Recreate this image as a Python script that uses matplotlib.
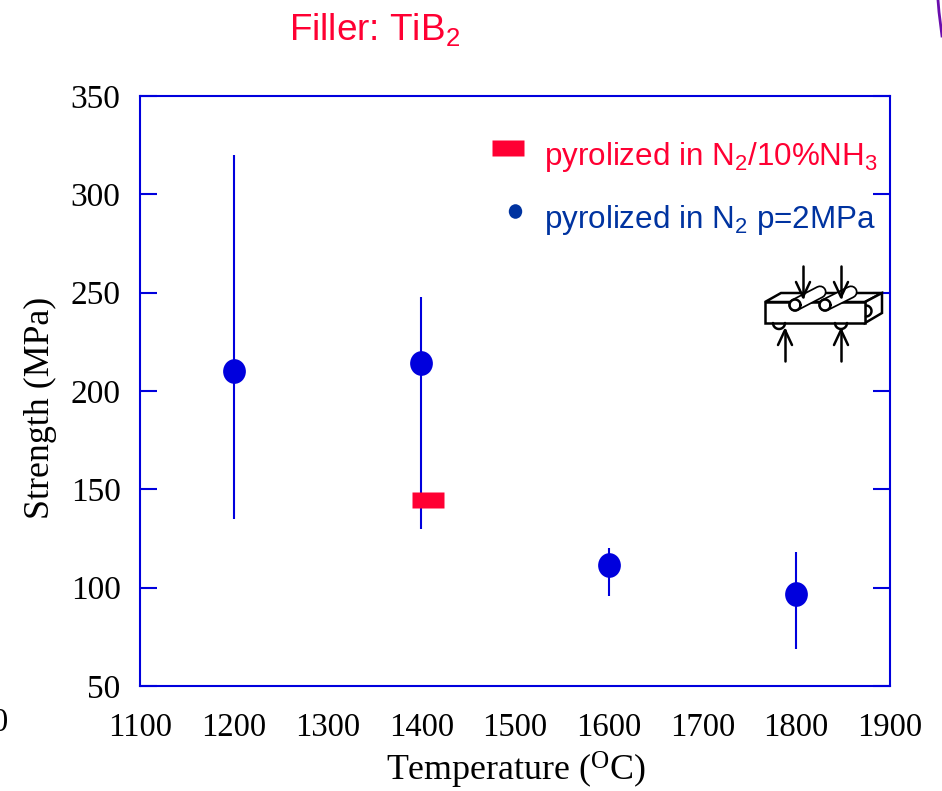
import matplotlib
matplotlib.use("Agg")
import matplotlib.pyplot as plt
import matplotlib.path as mpath
import numpy as np

plt.rcParams['mathtext.default'] = 'regular'

# data
temps = [1200, 1400, 1600, 1800]
strength = [210, 214, 111.5, 97]
strength_low = [135, 130, 96, 69]
strength_high = [320, 248, 120, 118]
nh3_temp = [1407]
nh3_strength = [144.5]

xticks = [1100, 1200, 1300, 1400, 1500, 1600, 1700, 1800, 1900]
yticks = [50, 100, 150, 200, 250, 300, 350]

title_text = "Filler: TiB$_2$"
legend_red = "pyrolized in N$_2$/10%NH$_3$"
legend_blue = "pyrolized in N$_2$ p=2MPa"

W, H = 942, 791
blue = "#0000DD"
navy = "#0033A0"
red = "#FF0033"
serif = "Liberation Serif"
sans = "Liberation Sans"

# markers: slightly tall ellipse, flat rectangle
ellipse = mpath.Path(mpath.Path.unit_circle().vertices * np.array([0.92, 1.0]),
                     mpath.Path.unit_circle().codes)
rect = mpath.Path([(-1, -0.5), (1, -0.5), (1, 0.5), (-1, 0.5), (-1, -0.5)], closed=True)

fig = plt.figure(figsize=(W / 100, H / 100), dpi=100)
ax = fig.add_axes([140 / W, 1 - 686 / H, 750 / W, 590 / H])

for t, lo, hi in zip(temps, strength_low, strength_high):
    ax.plot([t, t], [lo, hi], color=blue, lw=1.5, solid_capstyle="butt", zorder=2)
ax.plot(temps, strength, ls="none", marker=ellipse, ms=17.8, mfc=blue, mec="none", zorder=3)
ax.plot(nh3_temp, nh3_strength, ls="none", marker=rect, ms=23, mfc=red, mec="none", zorder=4)

ax.set_xlim(1100, 1900)
ax.set_ylim(50, 350)
ax.set_xticks(xticks)
ax.set_yticks(yticks)
ax.tick_params(axis="x", length=0, pad=19, labelsize=23.5, labelfontfamily=serif, labelcolor="black")
ax.tick_params(axis="y", direction="in", left=True, right=True, length=12, width=1.5,
               color=blue, pad=14, labelsize=24, labelfontfamily=serif, labelcolor="black")
for s in ax.spines.values():
    s.set_color(blue)
    s.set_linewidth(1.5)

# overlay in picture pixels for labels, legend and the bending sketch
ov = fig.add_axes([0, 0, 1, 1], facecolor="none")
ov.set_xlim(0, W)
ov.set_ylim(H, 0)
ov.axis("off")

ov.text(516, 770, "Temperature ($^{O}$C)", family=serif, fontsize=25.8, ha="center", va="center")
ov.text(40, 408, "Strength (MPa)", family=serif, fontsize=25.8, rotation=90, ha="center", va="center")
ov.text(8, 723, "0", family=serif, fontsize=23.5, ha="right", va="center")
ov.text(289, 29, title_text, family=sans, fontsize=26.6, color=red, ha="left", va="center")

ov.plot([508], [148], marker=rect, ms=23, mfc=red, mec="none")
ov.plot([515], [211], marker=ellipse, ms=10.5, mfc=navy, mec="none")
ov.text(544, 157, legend_red, family=sans, fontsize=22.6, color=red, ha="left", va="center")
ov.text(544, 220, legend_blue, family=sans, fontsize=22.6, color=navy, ha="left", va="center")

# top right corner curve
ov.plot([938, 939, 941, 942], [0, 12, 28, 36], color="#6A0DAD", lw=2)

# bending sketch
k = dict(color="black", lw=1.8, solid_capstyle="round", solid_joinstyle="round")
t = np.linspace(0, np.pi, 20)
for cx in (779, 841):
    ov.plot(cx + 6 * np.cos(t), 323 + 6 * np.sin(t), **k)
ov.fill([765, 781, 882, 865], [302, 293, 293, 302], fc="white", ec="black", lw=1.8)
ov.fill([865, 882, 882, 865], [302, 293, 313, 323], fc="white", ec="black", lw=1.8)
ov.fill([765, 865, 865, 765], [302, 302, 323, 323], fc="white", ec="black", lw=1.8)
t = np.linspace(-np.pi / 2, np.pi / 2, 20)
ov.plot(866 + 5.5 * np.cos(t), 311 + 5.5 * np.sin(t), **k)
for x0, y0, x1, y1 in [(795, 305, 820, 292), (825, 305, 851, 292)]:
    ov.plot([x0, x1], [y0, y1], color="black", lw=9.5, solid_capstyle="round")
    ov.plot([x0, x1], [y0, y1], color="white", lw=7, solid_capstyle="round")
    t = np.linspace(0, 2 * np.pi, 30)
    ov.plot(x0 + 5.5 * np.cos(t), y0 + 5.5 * np.sin(t), **k)
for x, y0, y1 in [(803, 266, 297), (841, 266, 297), (785, 361, 330), (841, 361, 330)]:
    ov.plot([x, x], [y0, y1], **k)
    d = -15 if y1 > y0 else 15
    ov.plot([x - 7, x, x + 7], [y1 + d, y1, y1 + d], **k)

fig.savefig("out.png", dpi=100)
